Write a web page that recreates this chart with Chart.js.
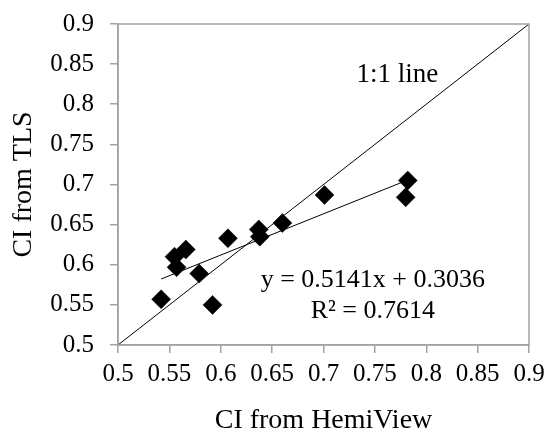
<!DOCTYPE html>
<html>
<head>
<meta charset="utf-8">
<script src="https://cdn.jsdelivr.net/npm/chart.js@4.4.0/dist/chart.umd.min.js"></script>
<style>
  html, body { margin: 0; padding: 0; background: #ffffff; }
  #wrap { width: 546px; height: 435px; }
</style>
</head>
<body>
<div id="wrap"><canvas id="ci" width="546" height="435"></canvas></div>
<script>
// Clumping index measured per plot: HemiView photos (x) vs TLS scans (y)
const hemiViewCI = [0.542, 0.555, 0.557, 0.566, 0.579, 0.592, 0.607, 0.637, 0.638, 0.660, 0.701, 0.780, 0.782];
const tlsCI      = [0.557, 0.610, 0.597, 0.619, 0.589, 0.550, 0.633, 0.644, 0.635, 0.652, 0.687, 0.684, 0.705];

// Linear fit reported on the chart
const fitSlope = 0.5141;
const fitIntercept = 0.3036;
const fitR2 = 0.7614;

// Shared axis ticks (both axes span the same range)
const axisTicks = [0.5, 0.55, 0.6, 0.65, 0.7, 0.75, 0.8, 0.85, 0.9];

const FONT = "'Liberation Serif', 'Times New Roman', serif";
const AXIS_GREY = '#a3a3a3';

const points = hemiViewCI.map((x, i) => ({ x: x, y: tlsCI[i] }));
const xMin = Math.min(...hemiViewCI);
const xMax = Math.max(...hemiViewCI);
const fitLine = [xMin, xMax].map(x => ({ x: x, y: fitSlope * x + fitIntercept }));
const oneToOne = [axisTicks[0], axisTicks[axisTicks.length - 1]].map(v => ({ x: v, y: v }));

const fmt = v => String(Number(v.toFixed(2)));

// Frame around the plot area plus the in-plot text labels
const framePlugin = {
  id: 'frameAndNotes',
  afterDatasetsDraw(chart) {
    const { ctx, chartArea: a, scales: { x, y } } = chart;
    ctx.save();
    ctx.strokeStyle = AXIS_GREY;
    ctx.lineWidth = 1.5;
    ctx.strokeRect(a.left, a.top, a.right - a.left, a.bottom - a.top);

    ctx.fillStyle = '#000';
    ctx.textAlign = 'center';
    ctx.textBaseline = 'middle';
    ctx.font = "27px " + FONT;
    ctx.fillText('1:1 line', x.getPixelForValue(0.772), y.getPixelForValue(0.837));

    ctx.font = "26px " + FONT;
    const eqX = x.getPixelForValue(0.748);
    ctx.fillText('y = ' + fitSlope.toFixed(4) + 'x + ' + fitIntercept.toFixed(4), eqX, y.getPixelForValue(0.5805));
    ctx.fillText('R\u00B2 = ' + fitR2.toFixed(4), eqX, y.getPixelForValue(0.5418));
    ctx.restore();
  }
};

const tickFont = { family: FONT, size: 25 };
const titleFont = { family: FONT, size: 28, lineHeight: 1 };

new Chart(document.getElementById('ci'), {
  type: 'scatter',
  data: {
    datasets: [
      {
        label: 'Plots',
        data: points,
        pointStyle: 'rectRot',
        pointRadius: 9.5,
        pointBorderWidth: 0.5,
        backgroundColor: '#000',
        borderColor: '#000',
        order: 1
      },
      {
        label: 'Linear fit',
        data: fitLine,
        showLine: true,
        borderColor: '#000',
        borderWidth: 1,
        pointRadius: 0,
        order: 2
      },
      {
        label: '1:1 line',
        data: oneToOne,
        showLine: true,
        borderColor: '#000',
        borderWidth: 1,
        pointRadius: 0,
        order: 3
      }
    ]
  },
  options: {
    responsive: false,
    animation: false,
    layout: { padding: 0 },
    plugins: {
      legend: { display: false },
      tooltip: { enabled: false }
    },
    scales: {
      x: {
        type: 'linear',
        min: axisTicks[0],
        max: axisTicks[axisTicks.length - 1],
        afterBuildTicks: s => { s.ticks = axisTicks.map(v => ({ value: v })); },
        afterFit: s => { s.height = 90; s.paddingLeft = 0; s.paddingRight = 17; },
        grid: { drawOnChartArea: false, drawTicks: true, tickLength: 8, color: AXIS_GREY, lineWidth: 1.5 },
        border: { display: true, color: AXIS_GREY, width: 1.5 },
        ticks: { font: tickFont, color: '#000', padding: 6, maxRotation: 0, autoSkip: false, callback: v => fmt(v) },
        title: { display: true, text: 'CI from HemiView', font: titleFont, color: '#000', padding: { top: 0, bottom: 0 } }
      },
      y: {
        type: 'linear',
        min: axisTicks[0],
        max: axisTicks[axisTicks.length - 1],
        afterBuildTicks: s => { s.ticks = axisTicks.map(v => ({ value: v })); },
        afterFit: s => { s.width = 118; s.paddingTop = 24; s.paddingBottom = 0; },
        grid: { drawOnChartArea: false, drawTicks: true, tickLength: 8, color: AXIS_GREY, lineWidth: 1.5 },
        border: { display: true, color: AXIS_GREY, width: 1.5 },
        ticks: { font: tickFont, color: '#000', padding: 16, autoSkip: false, callback: v => fmt(v) },
        title: { display: true, text: 'CI from TLS', font: titleFont, color: '#000', padding: { top: 10, bottom: 0 } }
      }
    }
  },
  plugins: [framePlugin]
});
</script>
</body>
</html>
